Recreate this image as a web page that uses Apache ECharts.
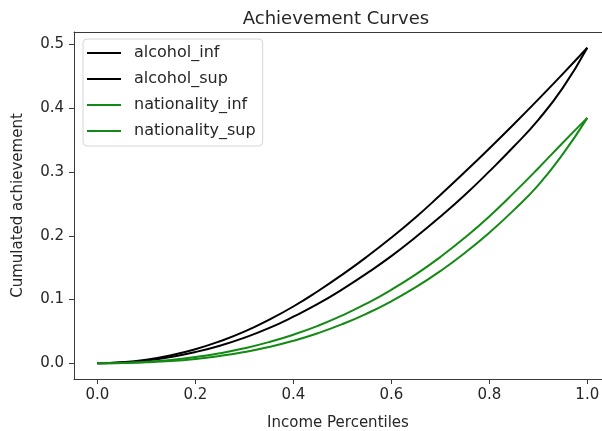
<!DOCTYPE html>
<html>
<head>
<meta charset="utf-8">
<script src="https://cdn.jsdelivr.net/npm/echarts@6/dist/echarts.min.js"></script>
<style>
html,body{margin:0;padding:0;background:#fff;}
#c{width:602px;height:431px;}
</style>
</head>
<body>
<div id="c"></div>
<script>
// Percentiles (x) shared by all series
var percentiles = [0, 0.05, 0.1, 0.15, 0.2, 0.25, 0.3, 0.35, 0.4, 0.45, 0.5, 0.55, 0.6, 0.65, 0.7, 0.75, 0.8, 0.85, 0.9, 0.95, 1.0];
var alcoholInf = [0, 0.001, 0.0042, 0.0097, 0.0175, 0.0275, 0.040, 0.055, 0.073, 0.093, 0.116, 0.141, 0.168, 0.198, 0.230, 0.264, 0.301, 0.340, 0.382, 0.432, 0.495];
var alcoholSup = [0, 0.0014, 0.0055, 0.0124, 0.022, 0.0344, 0.0495, 0.068, 0.089, 0.113, 0.139, 0.167, 0.197, 0.229, 0.264, 0.300, 0.337, 0.375, 0.414, 0.454, 0.495];
var nationalityInf = [0, 0.0003, 0.0015, 0.0035, 0.0068, 0.0114, 0.0175, 0.0254, 0.0352, 0.0471, 0.0613, 0.0779, 0.0972, 0.1193, 0.1446, 0.1730, 0.2048, 0.2402, 0.2795, 0.328, 0.385];
var nationalitySup = [0, 0.0005, 0.0022, 0.0052, 0.0096, 0.0156, 0.0234, 0.0331, 0.0448, 0.0587, 0.075, 0.0938, 0.1152, 0.1394, 0.1666, 0.1969, 0.2304, 0.2673, 0.306, 0.346, 0.385];
var xTicks = [0, 0.2, 0.4, 0.6, 0.8, 1.0];
var yTicks = [0, 0.1, 0.2, 0.3, 0.4, 0.5];
var seriesNames = ['alcohol_inf', 'alcohol_sup', 'nationality_inf', 'nationality_sup'];
var seriesColors = ['#000000', '#000000', '#138a13', '#138a13'];

function pairs(ys){ return percentiles.map(function(x,i){ return [x, ys[i]]; }); }
var allData = [alcoholInf, alcoholSup, nationalityInf, nationalitySup];

var chart = echarts.init(document.getElementById('c'), null, {renderer:'canvas'});
var font = 'DejaVu Sans';
var txt = '#262626';
var axisCol = '#3a3a3a';
chart.setOption({
  animation:false,
  backgroundColor:'#fff',
  title:{
    text:'Achievement Curves', left:331, top:5, textAlign:'center',
    textStyle:{fontFamily:font, fontSize:18, fontWeight:'normal', color:txt}
  },
  legend:{
    left:83, top:39, orient:'vertical',
    data: seriesNames.map(function(n){ return {name:n, icon:'rect'}; }),
    itemWidth:34, itemHeight:2, itemGap:8,
    padding:[5,7,6,4],
    borderColor:'#d6d6d6', borderWidth:1, borderRadius:4,
    backgroundColor:'#fff',
    textStyle:{fontFamily:font, fontSize:16, color:txt, lineHeight:18, padding:[0,0,0,8]}
  },
  grid:{left:74, right:0, top:32, bottom:52, show:false, containLabel:false, outerBoundsMode:'none'},
  xAxis:[{
    type:'value', min:-0.0476, max:1.030,
    name:'Income Percentiles', nameLocation:'middle', nameGap:37,
    nameTextStyle:{fontFamily:font, fontSize:15, color:txt},
    axisLine:{show:true, onZero:false, lineStyle:{color:axisCol, width:1}},
    axisTick:{show:true, length:5, lineStyle:{color:axisCol}, customValues:xTicks},
    axisLabel:{fontFamily:font, fontSize:15, color:txt, margin:9, customValues:xTicks,
      formatter:function(v){ return v.toFixed(1); }},
    splitLine:{show:false}
  },{
    type:'value', position:'top', min:-0.0476, max:1.030,
    axisLine:{show:true, onZero:false, lineStyle:{color:axisCol, width:1}},
    axisTick:{show:false}, axisLabel:{show:false}, splitLine:{show:false}
  }],
  yAxis:{
    type:'value', min:-0.02475, max:0.51975,
    name:'Cumulated achievement', nameLocation:'middle', nameGap:48, nameRotate:90,
    nameTextStyle:{fontFamily:font, fontSize:15, color:txt},
    axisLine:{show:true, onZero:false, lineStyle:{color:axisCol, width:1}},
    axisTick:{show:true, length:5, lineStyle:{color:axisCol}, customValues:yTicks},
    axisLabel:{fontFamily:font, fontSize:15, color:txt, margin:10, customValues:yTicks,
      formatter:function(v){ return v.toFixed(1); }},
    splitLine:{show:false}
  },
  series: seriesNames.map(function(n,i){
    return {
      name:n, type:'line', xAxisIndex:0, data:pairs(allData[i]), showSymbol:false, symbol:'none',
      smooth:true, lineStyle:{color:seriesColors[i], width:2}, itemStyle:{color:seriesColors[i]},
      z:2+i
    };
  })
});
</script>
</body>
</html>
